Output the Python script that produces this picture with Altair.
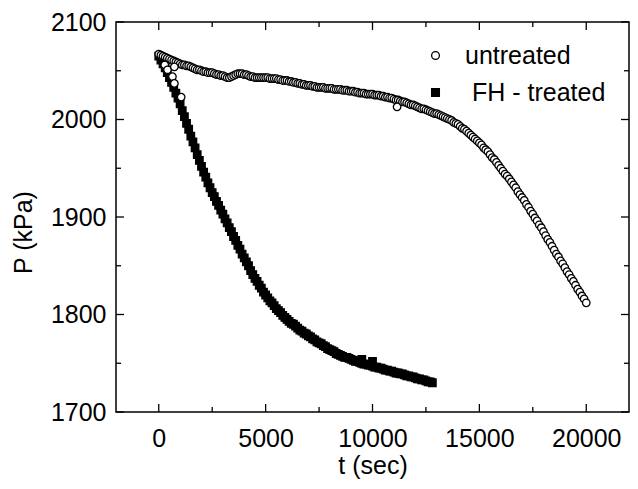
import altair as alt
import pandas as pd

# ---------------- data ----------------
series_names = ["untreated", "FH - treated"]

t_untreated = list(range(0, 20001, 100))
p_untreated = [
    2067, 2066, 2065, 2064, 2063, 2062, 2061, 2060, 2059, 2058,
    2057, 2056, 2056, 2055, 2055, 2054, 2053, 2052, 2051, 2051,
    2050, 2049, 2049, 2048, 2048, 2048, 2047, 2046, 2046, 2045,
    2045, 2044, 2043, 2043, 2044, 2045, 2046, 2047, 2047, 2047,
    2046, 2046, 2045, 2044, 2044, 2043, 2043, 2043, 2043, 2043,
    2043, 2043, 2042, 2042, 2042, 2042, 2041, 2041, 2040, 2040,
    2040, 2039, 2039, 2038, 2038, 2037, 2037, 2036, 2036, 2035,
    2035, 2035, 2034, 2034, 2033, 2033, 2033, 2033, 2032, 2032,
    2032, 2032, 2031, 2031, 2031, 2031, 2030, 2030, 2030, 2029,
    2029, 2029, 2028, 2028, 2027, 2027, 2027, 2026, 2026, 2026,
    2026, 2025, 2025, 2025, 2024, 2024, 2023, 2023, 2022, 2022,
    2021, 2020, 2020, 2019, 2018, 2018, 2017, 2016, 2015, 2015,
    2014, 2013, 2012, 2011, 2011, 2010, 2009, 2008, 2007, 2006,
    2006, 2005, 2004, 2003, 2002, 2001, 2000, 1999, 1997, 1996,
    1995, 1993, 1991, 1990, 1988, 1986, 1984, 1982, 1980, 1978,
    1976, 1974, 1971, 1969, 1967, 1964, 1961, 1959, 1956, 1953,
    1950, 1947, 1944, 1942, 1939, 1936, 1933, 1930, 1926, 1923,
    1920, 1917, 1913, 1910, 1906, 1903, 1899, 1896, 1892, 1889,
    1885, 1881, 1877, 1874, 1870, 1866, 1862, 1859, 1855, 1852,
    1848, 1844, 1841, 1837, 1834, 1830, 1826, 1823, 1819, 1816,
    1812,
]
t_untreated_extra = [280, 410, 640, 730, 730, 1050, 11150]
p_untreated_extra = [2056, 2051, 2044, 2054, 2037, 2023, 2013]

t_treated = list(range(0, 12801, 100))
p_treated = [
    2065, 2061, 2057, 2053, 2048, 2043, 2038, 2033, 2027, 2022,
    2016, 2009, 2003, 1996, 1990, 1983, 1977, 1971, 1964, 1958,
    1952, 1946, 1941, 1935, 1930, 1925, 1921, 1916, 1912, 1907,
    1903, 1898, 1894, 1889, 1885, 1880, 1876, 1871, 1867, 1862,
    1858, 1854, 1850, 1845, 1841, 1837, 1834, 1830, 1827, 1823,
    1820, 1817, 1814, 1812, 1809, 1806, 1804, 1802, 1799, 1797,
    1795, 1793, 1791, 1790, 1788, 1786, 1784, 1783, 1781, 1780,
    1778, 1777, 1775, 1774, 1772, 1771, 1770, 1768, 1767, 1765,
    1764, 1763, 1762, 1760, 1759, 1758, 1757, 1756, 1756, 1755,
    1754, 1753, 1752, 1752, 1751, 1750, 1749, 1749, 1748, 1748,
    1747, 1746, 1746, 1745, 1745, 1744, 1743, 1743, 1742, 1742,
    1741, 1740, 1740, 1739, 1739, 1738, 1737, 1737, 1736, 1736,
    1735, 1734, 1734, 1733, 1733, 1732, 1731, 1731, 1730,
]
t_treated_extra = [9500, 10000]
p_treated_extra = [1754, 1752]

x_major = [0, 5000, 10000, 15000, 20000]
x_minor = [2500, 7500, 12500, 17500]
y_major = [1700, 1800, 1900, 2000, 2100]
y_minor = [1750, 1850, 1950, 2050]

# ---------------- build tables ----------------
W, H = 513, 390
FONT = "Liberation Sans"
FS = 25

treated = pd.DataFrame({"t": t_treated + t_treated_extra,
                        "P": p_treated + p_treated_extra,
                        "series": series_names[1]})
untreated = pd.DataFrame({"t": t_untreated + t_untreated_extra,
                          "P": p_untreated + p_untreated_extra,
                          "series": series_names[0]})
points_df = pd.concat([treated, untreated], ignore_index=True)

xs = alt.Scale(domain=[-2000, 22000], nice=False, zero=False)
ys = alt.Scale(domain=[1700, 2100], nice=False, zero=False)

x_axis = alt.Axis(
    values=x_major, format="d", title="t (sec)", tickSize=0, domain=False,
    grid=False, labelPadding=14, titleY=41, titleBaseline="top",
    labelFont=FONT, labelFontSize=FS, labelColor="black",
    titleFont=FONT, titleFontSize=FS, titleFontWeight="normal", titleColor="black")
y_axis = alt.Axis(
    values=y_major, format="d", title="P (kPa)", tickSize=0, domain=False,
    grid=False, labelPadding=10, titleX=-80, titleY=210,
    labelFont=FONT, labelFontSize=FS, labelColor="black",
    titleFont=FONT, titleFontSize=FS, titleFontWeight="normal", titleColor="black")

legend = alt.Legend(
    title=None, orient="none", legendX=307, legendY=21,
    labelFont=FONT, labelFontSize=FS, labelColor="black",
    symbolSize=60, symbolStrokeColor="black", symbolStrokeWidth=1.3,
    labelOffset=17, rowPadding=11, padding=0,
    labelExpr="datum.value == 'FH - treated' ? '\u200b\u00a0FH - treated' : datum.label",
)

points = alt.Chart(points_df).mark_point(
    filled=True, stroke="black", strokeWidth=1.3, size=56, opacity=1
).encode(
    x=alt.X("t:Q", scale=xs, axis=x_axis),
    y=alt.Y("P:Q", scale=ys, axis=y_axis),
    shape=alt.Shape("series:N", scale=alt.Scale(domain=series_names, range=["circle", "square"]), legend=legend),
    fill=alt.Fill("series:N", scale=alt.Scale(domain=series_names, range=["white", "black"]), legend=legend),
    stroke=alt.Stroke("series:N", scale=alt.Scale(domain=series_names, range=["black", "black"]), legend=legend),
)


def xticks(vals, length, top):
    d = pd.DataFrame({"t": vals})
    if top:
        yy, yy2 = alt.value(0), alt.value(length)
    else:
        yy, yy2 = alt.value(H), alt.value(H - length)
    return alt.Chart(d).mark_rule(color="black", strokeWidth=1.3).encode(
        x=alt.X("t:Q", scale=xs, axis=x_axis), y=yy, y2=yy2)


def yticks(vals, length, right):
    d = pd.DataFrame({"P": vals})
    if right:
        xx, xx2 = alt.value(W), alt.value(W - length)
    else:
        xx, xx2 = alt.value(0), alt.value(length)
    return alt.Chart(d).mark_rule(color="black", strokeWidth=1.3).encode(
        y=alt.Y("P:Q", scale=ys, axis=y_axis), x=xx, x2=xx2)


rules = [
    xticks(x_major, 8, False), xticks(x_minor, 5, False),
    xticks(x_major, 8, True), xticks(x_minor, 5, True),
    yticks(y_major, 8, False), yticks(y_minor, 5, False),
    yticks(y_major, 8, True), yticks(y_minor, 5, True),
]

chart = alt.layer(points, *rules).properties(
    width=W, height=H,
    background="white",
    autosize=alt.AutoSizeParams(type="none"),
    padding={"left": 108, "top": 14, "right": 1, "bottom": 68},
).configure_view(
    stroke="black", strokeWidth=1.5
)

chart.save("out.html", embed_options={"renderer": "svg", "actions": False})
